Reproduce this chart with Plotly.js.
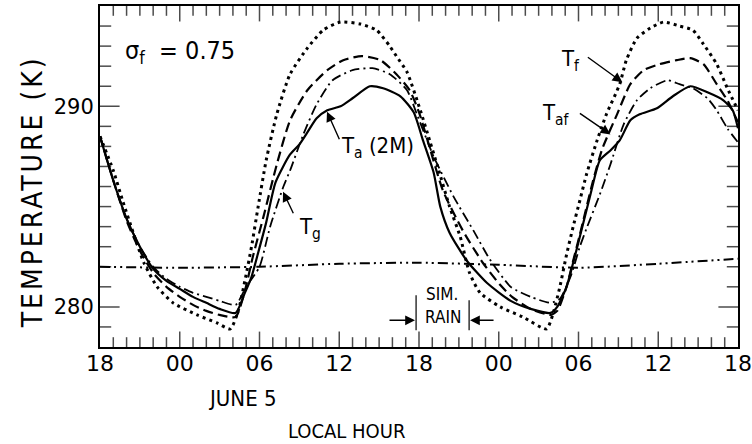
<!DOCTYPE html>
<html>
<head>
<meta charset="utf-8">
<script src="https://cdn.plot.ly/plotly-3.0.1.min.js"></script>
<style>html,body{margin:0;padding:0;background:#fff;}#chart{width:752px;height:444px;}</style>
</head>
<body>
<div id="chart"></div>
<script>
// Hours counted from 18:00 on June 4 (0) to 18:00 on June 6 (48)
const startTime = Date.UTC(1979, 5, 4, 18, 0, 0);
const tickHours = [0, 6, 12, 18, 24, 30, 36, 42, 48];
const tempTicks = [280, 290];
const tempTickLabels = ["280", "290"];

// T_f (foliage) - dotted
const hoursTf = [0, 1, 1.7, 2.5, 3.3, 4.3, 5.5, 7.3, 8.8, 9.8, 10.4, 10.9, 11.4, 11.9, 12.5, 13.3, 14.3, 15.6, 16.8, 18.1, 19.6, 20.8, 21.8, 22.3, 23.1, 24.1, 24.8, 25.4, 26.3, 27.1, 27.8, 28.6, 30.1, 31.8, 33.6, 34.1, 34.6, 35.1, 35.6, 36.1, 36.6, 37.4, 38.1, 39.1, 39.6, 40.4, 41.4, 42.4, 43.6, 44.6, 45.4, 46.4, 47.2, 48];
const tempTf  = [288.5, 286.8, 285.3, 283.7, 282.2, 281.0, 280.2, 279.6, 279.2, 278.9, 279.8, 281.3, 283.0, 285.0, 287.3, 289.6, 291.6, 292.9, 293.8, 294.2, 294.1, 293.8, 293.0, 292.5, 291.7, 289.8, 288.3, 287.0, 285.0, 283.5, 281.7, 280.7, 280.0, 279.5, 278.9, 279.7, 281.0, 282.6, 284.0, 285.3, 286.6, 288.3, 289.6, 291.1, 292.3, 293.4, 293.9, 294.2, 294.0, 293.8, 293.1, 292.1, 290.9, 289.8];

// T_af - dashed
const hoursTaf = [0, 1, 2, 3, 4, 5, 6, 7, 8, 9, 10.2, 10.9, 11.5, 12.3, 13.3, 14.3, 15.6, 17.1, 18.3, 19.7, 21.1, 22.3, 23.3, 24.0, 24.6, 25.8, 27.3, 28.8, 30.1, 31.0, 32.4, 33.9, 34.4, 35.1, 35.6, 36.1, 37.1, 37.8, 38.9, 39.9, 40.9, 42.1, 43.4, 44.4, 45.4, 46.4, 47.2, 48];
const tempTaf  = [288.5, 286.3, 284.3, 282.8, 281.7, 281.0, 280.5, 280.1, 279.8, 279.6, 279.5, 280.8, 282.5, 284.5, 287.1, 289.3, 290.8, 291.8, 292.3, 292.5, 292.3, 291.6, 290.8, 289.7, 288.4, 285.8, 283.8, 282.2, 281.1, 280.5, 279.9, 279.6, 279.8, 281.0, 282.3, 283.6, 286.3, 287.9, 289.6, 291.1, 291.8, 292.1, 292.3, 292.4, 292.1, 291.1, 290.3, 289.2];

// T_a (2M) - solid
const hoursTa = [0, 1, 2, 3, 4, 5, 6, 7, 8, 9, 10.2, 10.9, 11.4, 11.9, 12.5, 13.2, 14.3, 15.0, 15.6, 16.3, 17.1, 18.1, 19.0, 20.3, 21.3, 22.6, 23.6, 24.3, 25.1, 25.6, 26.3, 27.6, 29.1, 30.9, 32.4, 33.9, 34.4, 35.1, 35.6, 36.1, 36.9, 37.6, 38.4, 39.1, 39.9, 40.6, 41.9, 43.1, 44.4, 45.7, 46.9, 47.6, 48];
const tempTa  = [288.5, 286.3, 284.4, 283.0, 281.9, 281.3, 280.9, 280.5, 280.2, 279.9, 279.7, 280.7, 281.5, 282.7, 284.2, 286.2, 287.6, 288.1, 288.7, 289.4, 289.8, 290.0, 290.4, 291.0, 290.9, 290.5, 289.7, 288.3, 286.7, 285.0, 283.7, 282.3, 281.2, 280.3, 279.9, 279.7, 280.0, 281.0, 282.2, 283.5, 285.6, 287.3, 287.8, 288.3, 289.3, 289.6, 289.9, 290.5, 291.0, 290.7, 290.3, 289.8, 288.9];

// T_g - dash-dot
const hoursTg = [0, 1, 2, 3, 4, 5, 6, 7, 8, 9, 10.2, 11.0, 12.0, 12.8, 13.8, 14.3, 15.3, 16.3, 17.5, 19.0, 20.5, 21.8, 23.1, 23.9, 25.1, 26.6, 28.1, 29.3, 30.9, 32.4, 33.9, 34.6, 35.4, 36.1, 36.6, 37.6, 38.4, 39.4, 40.4, 41.4, 42.7, 43.6, 44.6, 45.7, 46.4, 47.2, 48];
const tempTg  = [288.5, 286.3, 284.4, 283.0, 282.0, 281.4, 281.0, 280.7, 280.5, 280.3, 280.1, 281.0, 282.0, 284.0, 286.0, 286.8, 288.6, 290.1, 291.3, 291.8, 291.9, 291.6, 290.8, 289.5, 287.5, 285.5, 283.8, 282.4, 281.0, 280.5, 280.2, 280.4, 281.5, 283.0, 283.9, 285.6, 287.1, 289.1, 290.3, 290.9, 291.3, 291.1, 290.9, 290.4, 289.8, 288.9, 288.2];

// Deep soil - dash-dot-dot (nearly flat)
const hoursDeep = [0, 6, 12, 18, 24, 30, 36, 42, 48];
const tempDeep  = [282.0, 281.95, 282.0, 282.15, 282.2, 282.1, 281.95, 282.15, 282.4];

const HOURS_RANGE = [0, 48];
const YRANGE = [278, 295];
const FONT = "DejaVu Sans Condensed, DejaVu Sans, sans-serif";
const TICKFONT = "DejaVu Sans, sans-serif";

function t(h) { return new Date(startTime + h * 3600000).toISOString().replace('T', ' ').slice(0, 19); }

function line(hours, y, name, dash, width) {
  return {x: hours.map(t), y: y, name: name, type: 'scatter', mode: 'lines',
          line: {color: 'black', width: width, dash: dash, shape: 'spline', smoothing: 0.6},
          hoverinfo: 'x+y+name'};
}

const traces = [
  line(hoursDeep, tempDeep, 'T deep', '10px,4px,2px,4px,2px,4px', 2),
  line(hoursTg, tempTg, 'T_g', '10px,4px,2px,4px', 1.8),
  line(hoursTaf, tempTaf, 'T_af', '10px,5px', 2.2),
  line(hoursTf, tempTf, 'T_f', '3px,4px', 3),
  line(hoursTa, tempTa, 'T_a (2M)', 'solid', 2.2)
];

// Inward tick marks: line markers centred on the frame, half clipped away by the plot area
const hourTickPos = [], hourTickSize = [];
for (let h = HOURS_RANGE[0] + 1; h < HOURS_RANGE[1]; h++) {
  hourTickPos.push(h);
  hourTickSize.push(tickHours.includes(h) ? 22 : 14);
}
const tempTickPos = [], tempTickSize = [];
for (let k = YRANGE[0] + 1; k < YRANGE[1]; k++) {
  tempTickPos.push(k);
  tempTickSize.push(tempTicks.includes(k) ? 28 : 16);
}
function tickTrace(x, y, size, symbol) {
  return {x: x, y: y, type: 'scatter', mode: 'markers', cliponaxis: true, hoverinfo: 'skip', showlegend: false,
          marker: {symbol: symbol, size: size, color: 'black', line: {color: 'black', width: 1.5}}};
}
traces.push(tickTrace(hourTickPos.map(t), hourTickPos.map(() => YRANGE[0]), hourTickSize, 'line-ns-open'));
traces.push(tickTrace(hourTickPos.map(t), hourTickPos.map(() => YRANGE[1]), hourTickSize, 'line-ns-open'));
traces.push(tickTrace(tempTickPos.map(() => t(HOURS_RANGE[0])), tempTickPos, tempTickSize, 'line-ew-open'));
traces.push(tickTrace(tempTickPos.map(() => t(HOURS_RANGE[1])), tempTickPos, tempTickSize, 'line-ew-open'));

function arrow(h, y, ax, ay) {
  return {x: t(h), y: y, ax: ax, ay: ay, xref: 'x', yref: 'y', axref: 'pixel', ayref: 'pixel',
          text: '', showarrow: true, arrowhead: 2, arrowsize: 1.4, arrowwidth: 1.4, arrowcolor: 'black'};
}
function label(h, y, text, size) {
  return {x: t(h), y: y, xref: 'x', yref: 'y', text: text, showarrow: false,
          font: {family: FONT, size: size, color: 'black'}, xanchor: 'center', yanchor: 'middle'};
}

const annotations = [
  label(6.0, 292.7, 'σ<sub>f</sub>  = 0.75', 25),
  label(20.9, 287.95, 'T<sub>a</sub> (2M)', 22),
  arrow(17.08, 289.73, 13, 29),
  label(15.8, 283.9, 'T<sub>g</sub>', 22),
  arrow(13.77, 285.74, 11, 23),
  label(35.4, 292.3, 'T<sub>f</sub>', 22),
  arrow(39.3, 291.2, -36, -26),
  label(34.3, 289.6, 'T<sub>af</sub>', 22),
  arrow(38.4, 288.6, -32, -22),
  label(25.7, 280.63, 'SIM.', 17),
  label(25.8, 279.49, 'RAIN', 17),
  arrow(23.7, 279.33, -27, 0),
  arrow(27.84, 279.33, 25, 0),
  {x: 0.224, y: -0.15, xref: 'paper', yref: 'paper', text: 'JUNE 5', showarrow: false,
   font: {family: FONT, size: 22, color: 'black'}, xanchor: 'center', yanchor: 'middle'},
  {x: 0.387, y: -0.245, xref: 'paper', yref: 'paper', text: 'LOCAL HOUR', showarrow: false,
   font: {family: FONT, size: 20, color: 'black'}, xanchor: 'center', yanchor: 'middle'},
  {x: -0.105, y: 0.455, xref: 'paper', yref: 'paper', text: 'TEMPERATURE (K)', showarrow: false, textangle: -90,
   font: {family: FONT, size: 28, color: 'black'}, xanchor: 'center', yanchor: 'middle'}
];

// Rain-period bars
const shapes = [
  {type: 'line', xref: 'x', yref: 'y', x0: t(23.78), x1: t(23.78), y0: 278.83, y1: 280.58, line: {color: 'black', width: 1.2}},
  {type: 'line', xref: 'x', yref: 'y', x0: t(27.77), x1: t(27.77), y0: 278.83, y1: 280.33, line: {color: 'black', width: 1.2}}
];

const layout = {
  width: 752, height: 444,
  margin: {l: 100, r: 14, t: 6, b: 97},
  showlegend: false,
  font: {family: FONT, color: 'black'},
  xaxis: {
    type: 'date', range: [t(HOURS_RANGE[0]), t(HOURS_RANGE[1])],
    tickmode: 'linear', tick0: t(0), dtick: 6 * 3600000, tickformat: '%H',
    ticks: '', ticklabelstandoff: -4,
    showline: true, linecolor: 'black', linewidth: 2, mirror: true,
    showgrid: false, zeroline: false,
    tickfont: {family: TICKFONT, size: 22, color: 'black'}
  },
  yaxis: {
    range: YRANGE, tickmode: 'array', tickvals: tempTicks, ticktext: tempTickLabels,
    ticks: '', showline: true, linecolor: 'black', linewidth: 2, mirror: true,
    showgrid: false, zeroline: false,
    tickfont: {family: TICKFONT, size: 21, color: 'black'}
  },
  annotations: annotations,
  shapes: shapes
};

Plotly.newPlot('chart', traces, layout, {displayModeBar: false}).then(function () {
  document.querySelectorAll('.annotation-text').forEach(function (el) {
    if (el.textContent === 'TEMPERATURE (K)') { el.style.letterSpacing = '3px'; }
  });
});
</script>
</body>
</html>
